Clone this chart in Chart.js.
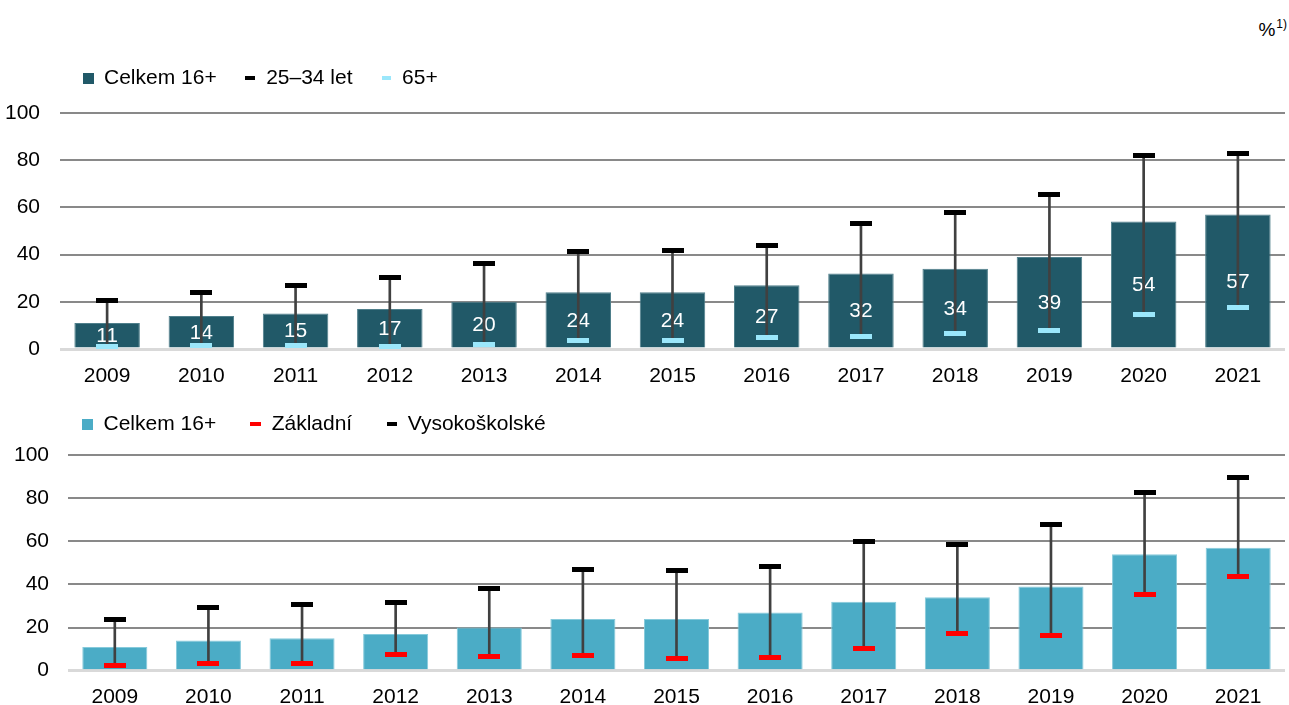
<!DOCTYPE html>
<html lang="cs">
<head>
<meta charset="utf-8">
<title>Celkem 16+</title>
<script src="https://cdn.jsdelivr.net/npm/chart.js@4"></script>
<style>
  html, body { margin: 0; padding: 0; background: #fff; }
  #wrap { position: relative; width: 1289px; height: 705px; overflow: hidden; font-family: 'Liberation Sans', Arial, sans-serif; }
  #topChart { position: absolute; left: 0; top: 0; }
  #bottomChart { position: absolute; left: 0; top: 370px; }
  #unit { position: absolute; right: 2px; top: 21px; font-size: 19px; line-height: 18px; color: #000; white-space: nowrap; }
  #unit span { position: relative; top: -8px; font-size: 12px; margin-left: 1px; }
</style>
</head>
<body>
<div id="wrap">
  <div id="unit">%<span>1)</span></div>
  <canvas id="topChart" width="1289" height="400"></canvas>
  <canvas id="bottomChart" width="1289" height="335"></canvas>
</div>
<script>
// Data (percent)
const years = ['2009', '2010', '2011', '2012', '2013', '2014', '2015', '2016', '2017', '2018', '2019', '2020', '2021'];
const total16 = [11, 14, 15, 17, 20, 24, 24, 27, 32, 34, 39, 54, 57];
const age2534 = [20.4, 23.8, 26.8, 30.2, 36.2, 41.3, 41.7, 43.8, 53.2, 57.9, 65.5, 82.1, 83.0];
const age65 = [1.0, 1.4, 1.4, 0.9, 2.1, 3.8, 3.4, 4.7, 5.5, 6.4, 7.7, 14.5, 17.4];
const eduBasic = [2.5, 3.4, 3.4, 7.6, 6.7, 7.1, 5.7, 6.2, 10.4, 17.3, 16.4, 35.4, 43.8];
const eduUniversity = [23.8, 29.4, 30.8, 31.7, 38.2, 47.0, 46.5, 48.4, 60.0, 58.6, 67.9, 82.7, 89.7];
const yTicks = [0, 20, 40, 60, 80, 100];

const FONT = "'Liberation Sans', Arial, sans-serif";
Chart.defaults.font.family = FONT;
Chart.defaults.font.size = 21;
Chart.defaults.color = '#000';

// small filled rectangles used as point / legend markers
function marker(w, h, color) {
  const c = document.createElement('canvas');
  c.width = w; c.height = h;
  const g = c.getContext('2d');
  g.fillStyle = color;
  g.fillRect(0, 0, w, h);
  return c;
}

// legend: extra space under it, and moved right to where the original has it
function legendPlace(extra, shift) {
  return {
    id: 'legendPlace',
    beforeInit(chart) {
      const fit = chart.legend.fit;
      chart.legend.fit = function () {
        fit.bind(chart.legend)();
        this.height += extra;
      };
    },
    afterLayout(chart) {
      chart.legend.left += shift;
    }
  };
}

// white value labels centred in the bars
const barValueLabels = {
  id: 'barValueLabels',
  afterDatasetDraw(chart, args) {
    if (args.index !== 0) return;
    const ctx = chart.ctx;
    ctx.save();
    ctx.fillStyle = '#fff';
    ctx.font = '21px ' + FONT;
    ctx.textAlign = 'center';
    ctx.textBaseline = 'middle';
    args.meta.data.forEach((bar, i) => {
      ctx.fillText(String(chart.data.datasets[0].data[i]), bar.x, (bar.y + bar.base) / 2 + 1);
    });
    ctx.restore();
  }
};

function makeChart(id, cfg) {
  const legendItems = cfg.legend.map(it => ({
    text: it.text, pointStyle: it.icon, fillStyle: 'rgba(0,0,0,0)', strokeStyle: 'rgba(0,0,0,0)',
    lineWidth: 0, hidden: false, datasetIndex: it.ds
  }));

  const plugins = [legendPlace(cfg.gap, cfg.legendShift)];
  if (cfg.labels) plugins.push(barValueLabels);

  return new Chart(document.getElementById(id), {
    type: 'bar',
    data: {
      labels: years,
      datasets: [
        {
          label: 'Celkem 16+',
          data: total16,
          backgroundColor: cfg.barColor,
          borderColor: cfg.barBorder,
          borderWidth: 1,
          grouped: false,
          barPercentage: 1,
          categoryPercentage: 0.695,
          order: 4
        },
        {
          label: 'range',
          data: cfg.low.map((v, i) => [v, cfg.high[i]]),
          backgroundColor: '#404040',
          borderWidth: 0,
          grouped: false,
          barThickness: 2,
          order: 3
        },
        {
          type: 'line',
          label: cfg.lowLabel,
          data: cfg.low,
          showLine: false,
          pointStyle: marker(22, 5, cfg.lowColor),
          pointRadius: 3,
          pointHoverRadius: 3,
          clip: false,
          order: 2
        },
        {
          type: 'line',
          label: cfg.highLabel,
          data: cfg.high,
          showLine: false,
          pointStyle: marker(22, 5, cfg.highColor),
          pointRadius: 3,
          pointHoverRadius: 3,
          clip: false,
          order: 1
        }
      ]
    },
    options: {
      responsive: false,
      animation: false,
      events: [],
      layout: { padding: { top: cfg.padTop, left: 0, right: 4, bottom: 0 } },
      plugins: {
        tooltip: { enabled: false },
        legend: {
          position: 'top',
          align: 'start',
          labels: {
            usePointStyle: true,
            boxWidth: 11,
            padding: cfg.legendPadding,
            color: '#000',
            font: { size: 21 },
            generateLabels: () => legendItems
          }
        }
      },
      scales: {
        x: {
          grid: { display: false },
          border: { display: false },
          ticks: { padding: cfg.xPad, color: '#000', font: { size: 21 } },
          afterFit: s => { s.height = cfg.xHeight; }
        },
        y: {
          min: 0,
          max: 100,
          afterBuildTicks: s => { s.ticks = yTicks.map(v => ({ value: v })); },
          ticks: { padding: cfg.yPad, color: '#000', font: { size: 21 } },
          grid: {
            drawTicks: false,
            color: c => c.tick.value === 0 ? '#d9d9d9' : '#898989',
            lineWidth: c => c.tick.value === 0 ? 3 : 2
          },
          border: { display: false },
          afterFit: s => { s.width = cfg.yWidth; }
        }
      }
    },
    plugins: plugins
  });
}

makeChart('topChart', {
  barColor: '#215968',
  barBorder: '#4f7f8b',
  low: age65, lowLabel: '65+', lowColor: '#9be7fb',
  high: age2534, highLabel: '25–34 let', highColor: '#000000',
  legend: [
    { text: 'Celkem 16+', icon: marker(11, 11, '#215968'), ds: 0 },
    { text: '25–34 let', icon: marker(10, 4, '#000000'), ds: 3 },
    { text: '65+', icon: marker(9, 4, '#9be7fb'), ds: 2 }
  ],
  padTop: 39.5,
  legendPadding: 28,
  legendShift: 54.5,
  gap: 14.5,
  xPad: 7,
  xHeight: 51,
  yPad: 20,
  yWidth: 60,
  labels: true
});

makeChart('bottomChart', {
  barColor: '#4bacc6',
  barBorder: '#86cadb',
  low: eduBasic, lowLabel: 'Základní', lowColor: '#ff0000',
  high: eduUniversity, highLabel: 'Vysokoškolské', highColor: '#000000',
  legend: [
    { text: 'Celkem 16+', icon: marker(11, 11, '#4bacc6'), ds: 0 },
    { text: 'Základní', icon: marker(11, 4, '#ff0000'), ds: 2 },
    { text: 'Vysokoškolské', icon: marker(10, 4, '#000000'), ds: 3 }
  ],
  padTop: 9.5,
  legendPadding: 34,
  legendShift: 48,
  gap: 10.5,
  xPad: 6,
  xHeight: 34.3,
  yPad: 19,
  yWidth: 68,
  labels: false
});
</script>
</body>
</html>
